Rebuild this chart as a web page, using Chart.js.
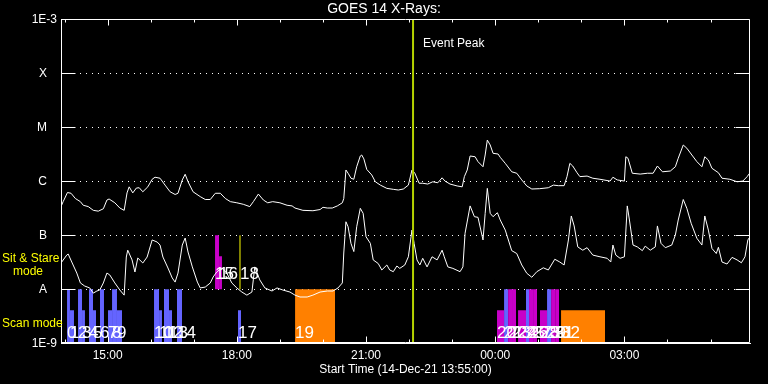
<!DOCTYPE html>
<html lang="en">
<head>
<meta charset="UTF-8">
<title>GOES 14 X-Rays</title>
<style>
    html, body { margin: 0; padding: 0; background: #000; }
    canvas { display: block; }
</style>
<script src="https://cdn.jsdelivr.net/npm/chart.js"></script>
</head>
<body>
<canvas id="goesChart" width="768" height="384"></canvas>
<script>
// times are minutes after 14-Dec-21 13:55:00, flux in W/m^2
const longTime = [0, 3, 9, 14, 20, 27, 31, 38, 45, 52, 59, 64, 67, 75, 82, 88, 92, 95, 100, 105, 109, 114, 121, 127, 131, 138, 145, 152, 159, 163, 169, 173, 177, 184, 194, 201, 208, 215, 222, 229, 236, 245, 254, 263, 268, 275, 282, 288, 295, 305, 315, 322, 326, 337, 351, 361, 365, 371, 378, 385, 392, 394, 397, 400, 404, 408, 412, 417, 419, 422, 426, 433, 438, 445, 454, 463, 470, 477, 484, 489, 493, 499, 504, 511, 518, 525, 531, 535, 542, 552, 559, 562, 566, 570, 577, 581, 588, 591, 594, 598, 602, 609, 612, 619, 628, 635, 642, 649, 656, 667, 679, 686, 693, 701, 705, 709, 713, 719, 723, 733, 741, 751, 765, 769, 775, 785, 787, 790, 796, 807, 817, 825, 831, 838, 849, 856, 860, 867, 872, 879, 886, 893, 897, 902, 907, 916, 921, 932, 942, 950, 956, 960];
const longFlux = [3.4e-7, 4.2e-7, 6.2e-7, 6.0e-7, 4.8e-7, 4.2e-7, 3.6e-7, 3.4e-7, 2.9e-7, 2.8e-7, 3.1e-7, 4.5e-7, 4.7e-7, 4.0e-7, 3.2e-7, 2.9e-7, 6.1e-7, 7.9e-7, 6.1e-7, 7.5e-7, 7.6e-7, 6.4e-7, 7.9e-7, 1.09e-6, 1.19e-6, 1.14e-6, 8.5e-7, 6.4e-7, 5.7e-7, 6.0e-7, 1.06e-6, 1.35e-6, 9.8e-7, 6.4e-7, 5.2e-7, 4.6e-7, 4.6e-7, 6.0e-7, 6.0e-7, 4.8e-7, 4.2e-7, 4.0e-7, 3.75e-7, 3.4e-7, 4.2e-7, 5.8e-7, 4.5e-7, 4.0e-7, 4.2e-7, 4.0e-7, 3.6e-7, 3.5e-7, 3.2e-7, 2.9e-7, 2.85e-7, 3.0e-7, 3.3e-7, 3.2e-7, 3.2e-7, 3.5e-7, 4.0e-7, 4.8e-7, 1.62e-6, 1.41e-6, 1.14e-6, 1.09e-6, 1.86e-6, 2.94e-6, 3.07e-6, 2.6e-6, 1.66e-6, 1.31e-6, 9.8e-7, 8.5e-7, 7.4e-7, 7.1e-7, 6.9e-7, 7.2e-7, 8.5e-7, 1.62e-6, 1.41e-6, 9.2e-7, 9.2e-7, 8.9e-7, 9.8e-7, 9.4e-7, 1.16e-6, 1.01e-6, 8.9e-7, 8.2e-7, 7.9e-7, 1.22e-6, 1.62e-6, 2.94e-6, 2.85e-6, 2.31e-6, 1.86e-6, 3.07e-6, 5.8e-6, 4.7e-6, 3.3e-6, 3.2e-6, 2.78e-6, 2.15e-6, 1.5e-6, 1.41e-6, 1.06e-6, 8.2e-7, 7.2e-7, 7.3e-7, 7.6e-7, 8.5e-7, 8.3e-7, 8.3e-7, 1.22e-6, 2.15e-6, 1.92e-6, 1.44e-6, 1.22e-6, 1.25e-6, 1.14e-6, 1.09e-6, 1.01e-6, 1.19e-6, 1.06e-6, 1.01e-6, 2.85e-6, 2.67e-6, 1.41e-6, 1.36e-6, 1.41e-6, 1.41e-6, 1.92e-6, 1.5e-6, 1.55e-6, 1.86e-6, 2.67e-6, 4.7e-6, 4.1e-6, 3.07e-6, 2.31e-6, 1.86e-6, 2.85e-6, 2.48e-6, 1.74e-6, 1.44e-6, 1.14e-6, 1.09e-6, 9.8e-7, 1.01e-6, 1.22e-6, 1.44e-6];

const shortTime = [0, 8, 10, 15, 22, 27, 33, 40, 45, 50, 54, 59, 64, 68, 75, 82, 88, 91, 93, 99, 103, 107, 114, 120, 127, 134, 138, 142, 149, 155, 159, 163, 169, 173, 177, 183, 190, 194, 201, 208, 212, 217, 224, 231, 238, 245, 252, 259, 266, 270, 277, 284, 294, 301, 309, 319, 326, 333, 343, 351, 361, 371, 379, 386, 392, 394, 397, 400, 404, 408, 412, 417, 421, 425, 431, 435, 442, 447, 454, 458, 463, 468, 472, 479, 484, 489, 492, 496, 500, 504, 510, 517, 524, 531, 534, 539, 546, 556, 560, 563, 570, 576, 581, 588, 591, 594, 598, 602, 608, 612, 619, 628, 635, 642, 649, 656, 663, 672, 679, 688, 695, 701, 707, 711, 715, 720, 727, 733, 741, 751, 761, 766, 769, 773, 779, 785, 789, 792, 797, 803, 810, 814, 821, 828, 831, 836, 842, 851, 856, 860, 867, 872, 878, 886, 893, 897, 902, 907, 913, 916, 921, 928, 935, 942, 948, 953, 957, 960];
const shortFlux = [3.07e-8, 4.3e-8, 4.5e-8, 3.2e-8, 2.0e-8, 1.31e-8, 1.15e-8, 1.06e-8, 8.5e-9, 9.3e-9, 9.7e-9, 1.31e-8, 2.0e-8, 1.84e-8, 1.31e-8, 9.7e-9, 7.8e-9, 3.96e-8, 5.3e-8, 3.5e-8, 2.09e-8, 3.8e-8, 3.07e-8, 3.96e-8, 8.2e-8, 7.5e-8, 6.6e-8, 3.96e-8, 2.48e-8, 1.62e-8, 1.36e-8, 2.0e-8, 6.6e-8, 8.9e-8, 4.9e-8, 2.6e-8, 1.36e-8, 1.06e-8, 1.1e-8, 1.31e-8, 1.69e-8, 2.09e-8, 2.48e-8, 2.0e-8, 1.31e-8, 1.06e-8, 8.9e-9, 7.8e-9, 8.9e-9, 2.6e-8, 1.49e-8, 1.06e-8, 9.3e-9, 1.06e-8, 9.7e-9, 8.9e-9, 7.8e-9, 7.2e-9, 7.2e-9, 7.8e-9, 8.9e-9, 9.3e-9, 9.3e-9, 1.06e-8, 1.31e-8, 4.7e-8, 1.78e-7, 1.44e-7, 7.1e-8, 5.0e-8, 1.44e-7, 3.16e-7, 2.55e-7, 9.4e-8, 7.1e-8, 3.5e-8, 3.0e-8, 2.28e-8, 2.82e-8, 2.28e-8, 2.12e-8, 2.7e-8, 2.44e-8, 2.82e-8, 4.0e-8, 1.25e-7, 7.1e-8, 3.5e-8, 2.82e-8, 3.75e-8, 2.6e-8, 4.0e-8, 3.5e-8, 5.3e-8, 4.0e-8, 2.6e-8, 2.44e-8, 2.12e-8, 2.6e-8, 1.09e-7, 3.5e-7, 2.21e-7, 2.15e-7, 8.2e-8, 2.55e-7, 7.4e-7, 2.55e-7, 2.21e-7, 2.62e-7, 1.92e-7, 1.25e-7, 5.2e-8, 4.6e-8, 2.82e-8, 1.98e-8, 1.67e-8, 2.12e-8, 2.5e-8, 2.28e-8, 3.6e-8, 3.2e-8, 2.82e-8, 8.2e-8, 2.28e-7, 1.49e-7, 6.1e-8, 5.3e-8, 5.9e-8, 4.3e-8, 4.0e-8, 3.75e-8, 3.2e-8, 6.6e-8, 4.3e-8, 3.75e-8, 4.0e-8, 3.5e-7, 1.92e-7, 6.6e-8, 6.1e-8, 5.2e-8, 6.3e-8, 5.3e-8, 6.1e-8, 1.49e-7, 7.1e-8, 5.9e-8, 6.6e-8, 1.01e-7, 1.92e-7, 4.6e-7, 3.16e-7, 1.67e-7, 8.8e-8, 6.6e-8, 2.28e-7, 1.25e-7, 5.7e-8, 4.6e-8, 6.0e-8, 3.2e-8, 2.94e-8, 3.9e-8, 3.5e-8, 3.1e-8, 4.0e-8, 8.2e-8, 9.4e-8];

// observations, numbered 0..32 by position in these arrays
const obsStart = [8.4, 12.5, 23.7, 29.3, 39.0, 44.6, 54.3, 65.5, 71.1, 78.0, 129.6, 136.6, 143.5, 150.5, 161.6, 214.6, 220.2, 246.6, 249.4, 326.1, 607.5, 617.3, 622.9, 628.4, 636.8, 647.9, 652.1, 657.7, 667.4, 677.2, 682.8, 688.4, 696.7];
const obsEnd = [12.5, 18.1, 29.3, 33.4, 44.6, 48.8, 59.9, 71.1, 78.0, 85.0, 136.6, 140.7, 150.5, 154.7, 168.6, 220.2, 224.3, 250.8, 249.4, 381.8, 617.3, 622.9, 628.4, 634.0, 647.9, 652.1, 657.7, 663.3, 677.2, 682.8, 688.4, 693.9, 758.0];
const obsMode = ['scan', 'scan', 'scan', 'scan', 'scan', 'scan', 'scan', 'scan', 'scan', 'scan', 'scan', 'scan', 'scan', 'scan', 'scan', 'stare', 'stare', 'scan', 'stare', 'scan', 'scan', 'scan', 'scan', 'scan', 'scan', 'scan', 'scan', 'scan', 'scan', 'scan', 'scan', 'scan', 'scan'];
const obsTop = [1e-8, 4.1e-9, 1e-8, 4.1e-9, 1e-8, 4.1e-9, 1e-8, 4.1e-9, 1e-8, 4.1e-9, 1e-8, 4.1e-9, 1e-8, 4.1e-9, 1e-8, 1e-7, 4.1e-8, 4.1e-9, 1e-7, 1e-8, 4.1e-9, 1e-8, 1e-8, 1e-8, 4.1e-9, 1e-8, 1e-8, 1e-8, 4.1e-9, 1e-8, 1e-8, 1e-8, 4.1e-9];
const obsType = [1, 1, 1, 1, 1, 1, 1, 1, 1, 1, 1, 1, 1, 1, 1, 2, 2, 1, 4, 3, 2, 1, 2, 2, 2, 1, 2, 2, 2, 1, 2, 2, 3];

const eventPeakTime = 490.5;

const xTickTimes = [65, 245, 425, 605, 785];
const xTickLabels = ['15:00', '18:00', '21:00', '00:00', '03:00'];
const yTickValues = [1e-9, 1e-8, 1e-7, 1e-6, 1e-5, 1e-4, 1e-3];
const yTickLabels = ['1E-9', 'A   ', 'B   ', 'C   ', 'M   ', 'X   ', '1E-3'];

const FONT = 'Liberation Sans';
const typeColors = {1: '#6464ff', 2: '#c800c8', 3: '#ff8000', 4: '#ffff00'};
const modeBase = {scan: 1e-9, stare: 1e-8};

const obsSets = obsStart.map((s, i) => {
    const e = obsEnd[i];
    const base = modeBase[obsMode[i]];
    const col = typeColors[obsType[i]];
    if (e === s) {
        // zero length observation: just a line
        return {data: [{x: s, y: base}, {x: s, y: obsTop[i]}], borderColor: col, borderWidth: 1, pointRadius: 0, order: 3};
    }
    return {
        data: [{x: s, y: obsTop[i]}, {x: e, y: obsTop[i]}],
        borderColor: 'transparent', borderWidth: 0, backgroundColor: col,
        pointRadius: 0, fill: {value: base}, order: 3
    };
});

const overlay = {
    id: 'overlay',
    afterDraw(chart) {
        const {ctx, chartArea: a, scales: {x, y}} = chart;
        const L = Math.round(a.left) + 0.5, R = Math.round(a.right) - 0.5;
        const T = Math.round(a.top) + 0.5, B = Math.round(a.bottom) - 0.5;
        ctx.save();
        ctx.strokeStyle = '#fff';
        ctx.lineWidth = 1;
        ctx.beginPath();
        ctx.rect(L, T, R - L, B - T);
        yTickValues.forEach(v => {
            const py = Math.round(y.getPixelForValue(v)) + 0.5;
            ctx.moveTo(L, py); ctx.lineTo(L + 14, py);
            ctx.moveTo(R - 14, py); ctx.lineTo(R, py);
        });
        for (let t = 5; t <= x.max; t += 60) {
            const px = Math.round(x.getPixelForValue(t)) + 0.5;
            const len = xTickTimes.includes(t) ? 6 : 3;
            ctx.moveTo(px, T); ctx.lineTo(px, T + len);
            ctx.moveTo(px, B); ctx.lineTo(px, B - len);
        }
        ctx.stroke();

        // event peak label
        ctx.fillStyle = '#fff';
        ctx.font = '12px "' + FONT + '"';
        ctx.textBaseline = 'middle';
        ctx.textAlign = 'left';
        ctx.fillText('Event Peak', x.getPixelForValue(eventPeakTime) + 10, a.top + 24);

        // mode labels on the left
        const yA = y.getPixelForValue(1e-8);
        ctx.fillStyle = '#ffff00';
        ctx.fillText('Sit & Stare', 2, yA - 31);
        ctx.fillText('mode', 13, yA - 18);
        ctx.fillText('Scan mode', 2, yA + 34);

        // observation numbers
        ctx.fillStyle = '#fff';
        ctx.font = '17px "' + FONT + '"';
        ctx.textBaseline = 'alphabetic';
        obsStart.forEach((s, i) => {
            const px = x.getPixelForValue(s);
            const py = obsMode[i] === 'scan' ? a.bottom - 5 : yA - 10;
            ctx.fillText(String(i), px, py);
        });
        ctx.restore();
    }
};

new Chart(document.getElementById('goesChart'), {
    type: 'line',
    data: {
        datasets: [
            {data: [{x: eventPeakTime, y: 1e-9}, {x: eventPeakTime, y: 1e-3}], borderColor: '#b4d200', borderWidth: 2, pointRadius: 0, order: 0},
            {data: longTime.map((t, i) => ({x: t, y: longFlux[i]})), borderColor: '#fff', borderWidth: 1, pointRadius: 0, order: 1},
            {data: shortTime.map((t, i) => ({x: t, y: shortFlux[i]})), borderColor: '#fff', borderWidth: 1, pointRadius: 0, order: 2},
            ...obsSets
        ]
    },
    options: {
        responsive: false,
        animation: false,
        layout: {padding: 0},
        plugins: {
            legend: {display: false},
            tooltip: {enabled: false},
            title: {
                display: true,
                text: 'GOES 14 X-Rays:',
                color: '#fff',
                font: {family: FONT, size: 14, weight: 'normal'},
                padding: {top: 1, bottom: 1.5}
            }
        },
        scales: {
            x: {
                type: 'linear',
                min: 0,
                max: 960,
                afterBuildTicks: s => { s.ticks = xTickTimes.map(v => ({value: v})); },
                afterFit: s => { s.height = 40.7; },
                grid: {display: false, drawTicks: false},
                border: {display: true, color: '#fff'},
                ticks: {
                    color: '#fff',
                    font: {family: FONT, size: 12},
                    padding: 5,
                    maxRotation: 0,
                    autoSkip: false,
                    callback: v => xTickLabels[xTickTimes.indexOf(v)]
                },
                title: {
                    display: true,
                    text: 'Start Time (14-Dec-21 13:55:00)',
                    color: '#fff',
                    font: {family: FONT, size: 12},
                    padding: {top: 0, bottom: 7}
                }
            },
            y: {
                type: 'logarithmic',
                min: 1e-9,
                max: 1e-3,
                afterBuildTicks: s => { s.ticks = yTickValues.map(v => ({value: v})); },
                afterFit: s => { s.width = 61; },
                grid: {color: '#fff', drawTicks: false},
                border: {display: true, color: '#fff', dash: [1, 5]},
                ticks: {
                    color: '#fff',
                    font: {family: FONT, size: 12},
                    padding: 4,
                    autoSkip: false,
                    callback: v => yTickLabels[yTickValues.findIndex(t => Math.abs(Math.log10(t) - Math.log10(v)) < 1e-6)]
                }
            },
            y2: {
                position: 'right',
                display: true,
                afterFit: s => { s.width = 18; },
                grid: {display: false},
                border: {display: false},
                ticks: {display: false}
            }
        }
    },
    plugins: [overlay]
});
</script>
</body>
</html>
